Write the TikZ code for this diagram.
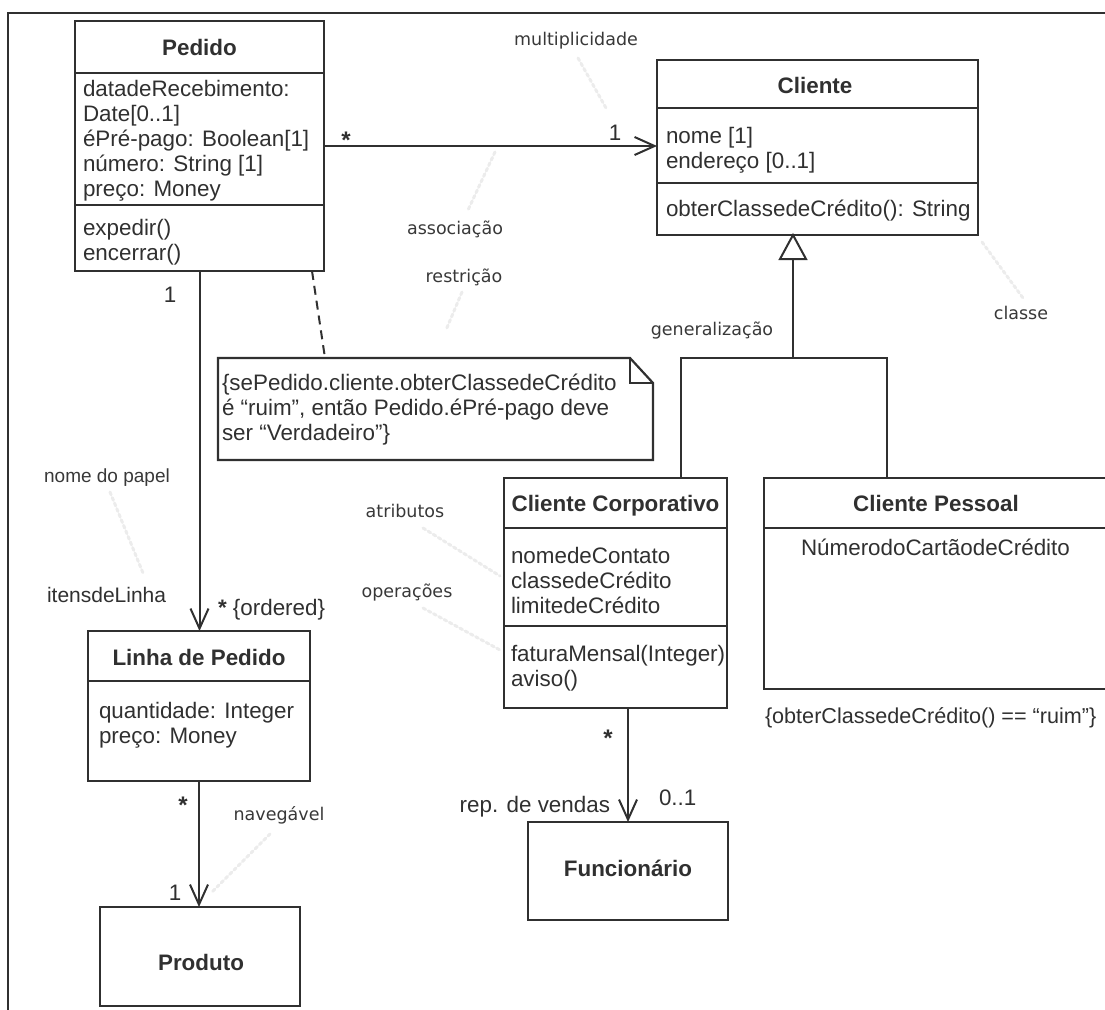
\documentclass[tikz,border=0pt]{standalone}
\usepackage{fontspec}
\setmainfont{Liberation Sans}
\newfontfamily\handfont{DejaVu Sans}
\usetikzlibrary{arrows.meta}
\definecolor{ink}{HTML}{303030}
\definecolor{lbl}{HTML}{383838}
\definecolor{faint}{HTML}{ECECEC}
\begin{document}
\begin{tikzpicture}[x=1pt,y=-1pt,
  every node/.style={inner sep=0pt, outer sep=0pt, text=ink},
  box/.style={draw=ink, line width=2.4pt, rectangle, anchor=north west},
  part/.style={draw=ink, line width=2.2pt},
  body/.style={font=\fontsize{22.4}{25}\selectfont, align=left, anchor=north west},
  head/.style={font=\fontsize{22.4}{25}\selectfont\bfseries, anchor=base},
  hand/.style={font=\handfont\fontsize{17.5}{20}\selectfont, text=lbl, anchor=base},
  mult/.style={font=\fontsize{22.4}{25}\selectfont, anchor=base},
  star/.style={font=\fontsize{24}{25}\selectfont\bfseries, anchor=base},
  link/.style={draw=ink, line width=2pt},
  nav/.style={link, -{Straight Barb[length=20pt, width=18pt, line width=2pt]}},
  leader/.style={draw=faint, line width=3pt, dash pattern=on 3pt off 3pt, line cap=round},
]
\useasboundingbox (0,0) rectangle (1105,1009);

% page frame
\draw[ink, line width=2.2pt] (8,1015) -- (8,13) -- (1115,13);

% faint pointer lines of the annotations
\draw[leader] (578,58) -- (606,108);
\draw[leader] (495,152) -- (468,210);
\draw[leader] (462,292) -- (446,330);
\draw[leader] (982,242) -- (1023,298);
\draw[leader] (110,492) -- (143,573);
\draw[leader] (423,528) -- (500,576);
\draw[leader] (423,608) -- (500,650);
\draw[leader] (270,834) -- (212,892);

% ---------- Pedido ----------
\node[box, minimum width=249pt, minimum height=250pt] (pedido) at (75,21) {};
\draw[part] (pedido.west |- 0,73) -- (pedido.east |- 0,73);
\draw[part] (pedido.west |- 0,205) -- (pedido.east |- 0,205);
\node[head] (pedido-h) at (199.5,55) {Pedido};
\node[body] (pedido-a) at (83,78.5) {\strut datadeRecebimento:\\Date[0..1]\\éPré-pago: Boolean[1]\\número: String [1]\\preço: Money};
\node[body] (pedido-o) at (83,218) {\strut expedir()\\encerrar()};

% ---------- Cliente ----------
\node[box, minimum width=321pt, minimum height=175pt] (cliente) at (657,60) {};
\draw[part] (cliente.west |- 0,108) -- (cliente.east |- 0,108);
\draw[part] (cliente.west |- 0,183) -- (cliente.east |- 0,183);
\node[head] (cliente-h) at (815,93) {Cliente};
\node[body] (cliente-a) at (666,125.5) {\strut nome [1]\\endereço [0..1]};
\node[body] (cliente-o) at (666,198.5) {\strut obterClassedeCrédito(): String};

% ---------- Cliente Corporativo ----------
\node[box, minimum width=223pt, minimum height=230pt] (corp) at (504,478) {};
\draw[part] (corp.west |- 0,528) -- (corp.east |- 0,528);
\draw[part] (corp.west |- 0,626) -- (corp.east |- 0,626);
\node[head] (corp-h) at (615.5,511) {Cliente Corporativo};
\node[body] (corp-a) at (511,545.5) {\strut nomedeContato\\classedeCrédito\\limitedeCrédito};
\node[body] (corp-o) at (511,643.5) {\strut faturaMensal(Integer)\\aviso()};

% ---------- Cliente Pessoal ----------
\node[box, minimum width=346pt, minimum height=211pt] (pessoal) at (764,478) {};
\draw[part] (pessoal.west |- 0,528) -- (pessoal.east |- 0,528);
\node[head] (pessoal-h) at (936,511) {Cliente Pessoal};
\node[body] (pessoal-a) at (801,538) {\strut NúmerodoCartãodeCrédito};
\node[mult, anchor=base west, font=\fontsize{21.6}{25}\selectfont] (pessoal-c) at (765,723) {\{obterClassedeCrédito() == “ruim”\}};

% ---------- Linha de Pedido ----------
\node[box, minimum width=222pt, minimum height=150pt] (linha) at (88,631) {};
\draw[part] (linha.west |- 0,681) -- (linha.east |- 0,681);
\node[head] (linha-h) at (199,665) {Linha de Pedido};
\node[body] (linha-a) at (99,700.5) {\strut quantidade: Integer\\preço: Money};

% ---------- Produto ----------
\node[box, minimum width=200pt, minimum height=99pt] (produto) at (100,907) {};
\node[head] (produto-h) at (201,970) {Produto};

% ---------- Funcionario ----------
\node[box, minimum width=200pt, minimum height=98pt] (func) at (528,822) {};
\node[head] (func-h) at (628,876) {Funcionário};

% ---------- constraint note ----------
\node[anchor=north west, minimum width=435pt, minimum height=102pt] (note) at (218,358) {};
\draw[part, line join=miter] (note.north west) -- (630,358) -- (653,383) -- (note.south east) -- (note.south west) -- cycle;
\draw[part] (630,358) -- (630,383) -- (653,383);
\node[body] (note-t) at (222,373) {\strut\{sePedido.cliente.obterClassedeCrédito\\é “ruim”, então Pedido.éPré-pago deve\\ser “Verdadeiro”\}};
\draw[link, dashed, dash pattern=on 9pt off 6pt] (pedido.south -| 312,0) -- (note.north -| 325,0);

% ---------- associations ----------
\draw[nav] (pedido.east) -- (pedido.east -| cliente.west);
\node[star] (m1) at (346,148) {*};
\node[mult] (m2) at (615,140) {1};

\draw[nav] (pedido.south) -- (pedido.south |- linha.north);
\node[mult] (m3) at (170,302) {1};
\node[mult, anchor=base west] (m4) at (218,615) {\textbf{*} \{ordered\}};
\node[mult, anchor=base west, font=\fontsize{21}{25}\selectfont] (role1) at (47,602) {itensdeLinha};

\draw[nav] (linha.south) -- (linha.south |- produto.north);
\node[star] (m5) at (183,813) {*};
\node[mult] (m6) at (175,900) {1};

\draw[nav] (func.north |- corp.south) -- (func.north);
\node[star] (m7) at (608,746) {*};
\node[mult, anchor=base west] (m8) at (659,805) {0..1};
\node[mult, anchor=base east] (role2) at (610,812) {rep. de vendas};

% ---------- generalization ----------
\coordinate (gtip) at (cliente.south -| 793,0);
\coordinate (gbase) at (793,259);
\coordinate (gjoin) at (793,358);
\draw[link, fill=white, line join=miter] (gtip) -- (780,259) -- (806,259) -- cycle;
\draw[link] (gbase) -- (gjoin);
\draw[link] (corp.north -| 681,0) |- (gjoin) -| (pessoal.north -| 887,0);

% ---------- annotations ----------
\node[hand] (l-mult) at (576,45) {multiplicidade};
\node[hand] (l-assoc) at (455,234) {associação};
\node[hand] (l-restr) at (464,282) {restrição};
\node[hand] (l-gen) at (712,335) {generalização};
\node[hand] (l-class) at (1021,319) {classe};
\node[hand] (l-attr) at (405,517) {atributos};
\node[hand] (l-ops) at (407,597) {operações};
\node[hand] (l-nav) at (279,820) {navegável};
\node[mult, font=\fontsize{19}{22}\selectfont, text=lbl] (l-role) at (107,482) {nome do papel};
\end{tikzpicture}
\end{document}
